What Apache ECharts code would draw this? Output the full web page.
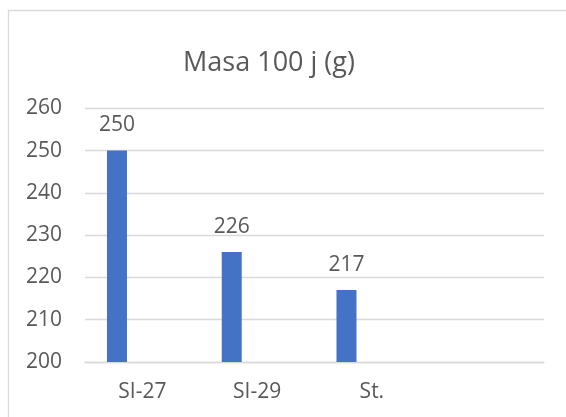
<!DOCTYPE html>
<html>
<head>
<meta charset="utf-8">
<script src="https://cdn.jsdelivr.net/npm/echarts@6/dist/echarts.min.js"></script>
<style>
html,body{margin:0;padding:0;background:#fff;}
#chart{width:566px;height:417px;}
</style>
</head>
<body>
<div id="chart"></div>
<script>
const titleText = 'Masa 100 j (g)';
const categories = ['SI-27', 'SI-29', 'St.', ''];
const values = [250, 226, 217, null];
const emptySeries = [null, null, null, null];
const yMin = 200, yMax = 260, yInterval = 10;

const FONT = 'Open Sans';
const TXT = '#595959';
const GRID = '#D9D9D9';

const chart = echarts.init(document.getElementById('chart'));
chart.setOption({
  animation: false,
  backgroundColor: '#fff',
  title: {
    text: titleText,
    left: 264, top: 45,
    textAlign: 'center',
    textStyle: { fontFamily: FONT, fontSize: 27, fontWeight: 'normal', color: TXT }
  },
  graphic: [{
    type: 'rect',
    shape: { x: 8.5, y: 10.5, width: 700, height: 500 },
    style: { fill: 'none', stroke: GRID, lineWidth: 1.3 },
    silent: true
  }],
  grid: { left: 85, right: 22, top: 108.3, bottom: 55, containLabel: false },
  xAxis: {
    type: 'category',
    data: categories,
    axisLine: { show: true, lineStyle: { color: GRID, width: 1.3 } },
    axisTick: { show: false },
    axisLabel: { color: TXT, fontFamily: FONT, fontSize: 21, margin: 20 },
    splitLine: { show: false }
  },
  yAxis: {
    type: 'value',
    min: yMin, max: yMax, interval: yInterval,
    axisLine: { show: false },
    axisTick: { show: false },
    axisLabel: { color: TXT, fontFamily: FONT, fontSize: 21, margin: 23 },
    splitLine: { show: true, lineStyle: { color: GRID, width: 1.3 } }
  },
  series: [
    {
      type: 'bar',
      data: values,
      barWidth: 20,
      barGap: '154%',
      itemStyle: { color: '#4472C4' },
      label: {
        show: true, position: 'top', distance: 15,
        color: TXT, fontFamily: FONT, fontSize: 21
      }
    },
    {
      type: 'bar',
      data: emptySeries,
      barWidth: 20,
      itemStyle: { color: '#ED7D31' }
    }
  ]
});
</script>
</body>
</html>
